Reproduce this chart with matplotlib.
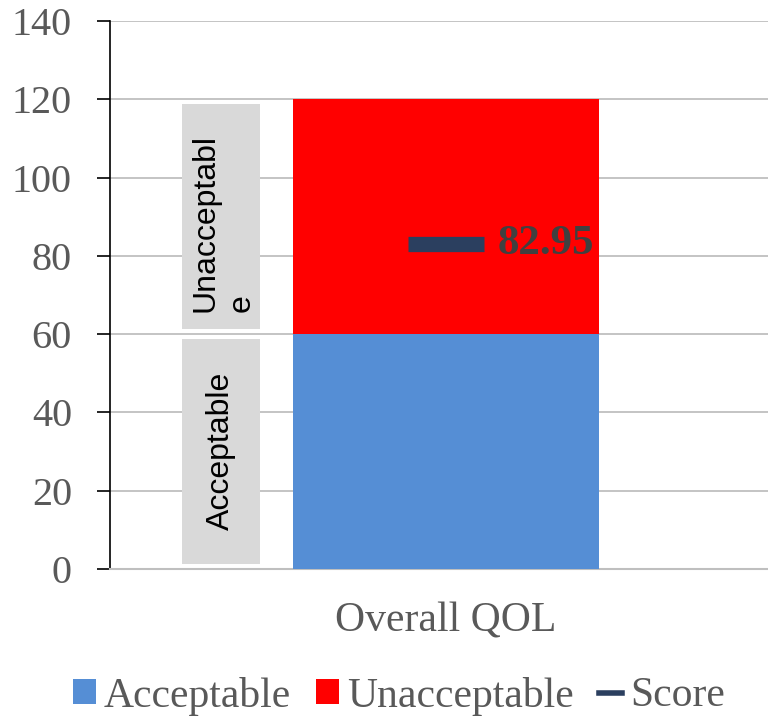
import matplotlib
matplotlib.use("Agg")
import matplotlib.pyplot as plt
from matplotlib.patches import Rectangle, Patch
from matplotlib.lines import Line2D

# Data
categories = ["Overall QOL"]
acceptable = [60]
unacceptable = [60]
score = [82.95]
band_labels = ["Acceptable", "Unacceptabl\ne"]
band_ranges = [(0, 60), (60, 120)]
yticks = [0, 20, 40, 60, 80, 100, 120, 140]

BLUE = "#558ED5"
RED = "#FF0000"
NAVY = "#2B3F5F"
GRID = "#BFBFBF"
TEXT = "#595959"
SERIF = ["Liberation Serif", "DejaVu Serif"]
SANS = ["Liberation Sans", "DejaVu Sans"]

W, H = 768, 717
fig = plt.figure(figsize=(W / 100, H / 100), dpi=100)
ax = fig.add_axes([110 / W, (H - 569) / H, 672 / W, 548 / H])

x = list(range(len(categories)))
bar_w = 0.455
ax.bar(x, acceptable, width=bar_w, color=BLUE, zorder=3)
ax.bar(x, unacceptable, bottom=acceptable, width=bar_w, color=RED, zorder=3)
ax.plot(x, score, linestyle="none", marker="_", markersize=55,
        markeredgewidth=11, color=NAVY, zorder=4)
for xi, s in zip(x, score):
    ax.annotate(f"{s:.2f}", (xi, s), xytext=(37, 0), textcoords="offset points",
                ha="left", va="center", fontsize=31, fontweight="bold",
                color="#404040", family=SERIF, zorder=5)

# Shaded band labels beside the bar
bx0, bx1 = -0.393, -0.277
for (lo, hi), lab in zip(band_ranges, band_labels):
    ax.add_patch(Rectangle((bx0, lo + 1.3), bx1 - bx0, (hi - lo) - 2.6,
                           facecolor="#D9D9D9", edgecolor="none", zorder=2))
ax.text((bx0 + bx1) / 2, 30.3, band_labels[0], rotation=90, ha="center",
        va="center", fontsize=23, family=SANS, color="black", zorder=3)
ax.text((bx0 + bx1) / 2 + 0.004, 88.3, band_labels[1], rotation=90, ha="center",
        va="center", multialignment="left", fontsize=23, family=SANS,
        color="black", linespacing=1.3, zorder=3)

ax.set_xlim(-0.5, 0.5)
ax.set_ylim(0, 140)
ax.set_yticks(yticks)
ax.set_xticks(x)
ax.set_xticklabels(categories)
ax.yaxis.grid(True, color=GRID, linewidth=1.3, zorder=0)
ax.set_axisbelow(True)

for side in ["top", "right"]:
    ax.spines[side].set_visible(False)
ax.spines["left"].set_color("black")
ax.spines["left"].set_linewidth(1.2)
ax.spines["bottom"].set_color(GRID)
ax.spines["bottom"].set_linewidth(1.5)

ax.tick_params(axis="y", direction="out", length=9.4, width=1.2, color="black",
               pad=18, labelsize=29, labelcolor=TEXT)
ax.tick_params(axis="x", length=0, pad=24, labelsize=30, labelcolor=TEXT)
for lab in ax.get_yticklabels() + ax.get_xticklabels():
    lab.set_family(SERIF)

handles = [
    Patch(facecolor=BLUE, edgecolor="none"),
    Patch(facecolor=RED, edgecolor="none"),
    Line2D([], [], color=NAVY, linewidth=4),
]
leg = fig.legend(handles, ["Acceptable", "Unacceptable", "Score"],
                 loc="center", bbox_to_anchor=(399 / W, 1 - 696 / H), ncol=3,
                 frameon=False, handlelength=0.55, handleheight=0.55,
                 handletextpad=0.2, columnspacing=0.6,
                 prop={"family": SERIF, "size": 30})
for t in leg.get_texts():
    t.set_color(TEXT)

fig.savefig("out.png", dpi=100)
